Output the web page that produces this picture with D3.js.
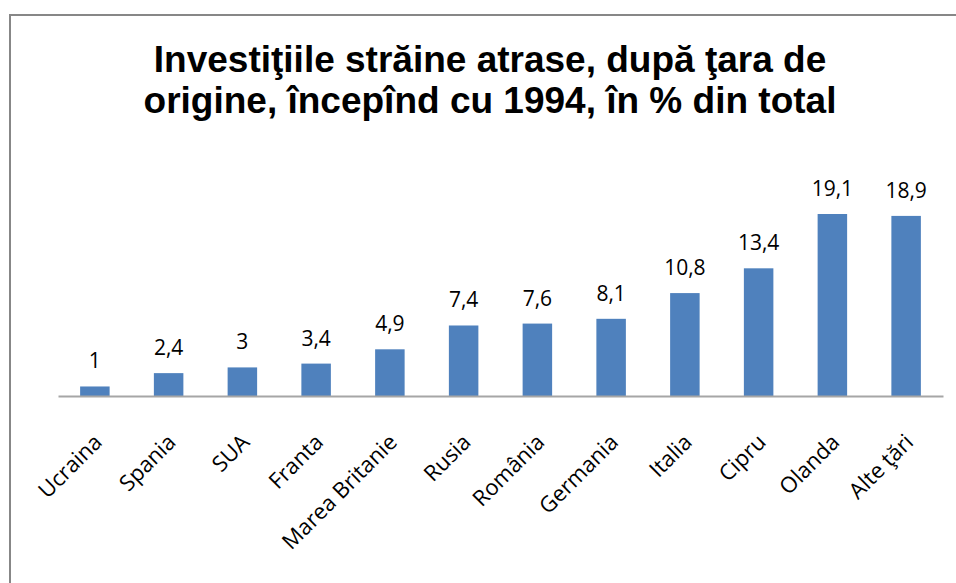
<!DOCTYPE html>
<html>
<head>
<meta charset="utf-8">
<script src="https://cdn.jsdelivr.net/npm/d3@7"></script>
<style>
  body { margin: 0; background: #fff; }
  svg { display: block; }
</style>
</head>
<body>
<div id="chart"></div>
<script>
// data
const categories = ['Ucraina', 'Spania', 'SUA', 'Franta', 'Marea Britanie', 'Rusia',
  'România', 'Germania', 'Italia', 'Cipru', 'Olanda', 'Alte ţări'];
const values = [1, 2.4, 3, 3.4, 4.9, 7.4, 7.6, 8.1, 10.8, 13.4, 19.1, 18.9];
const valueLabels = ['1', '2,4', '3', '3,4', '4,9', '7,4', '7,6', '8,1', '10,8', '13,4', '19,1', '18,9'];
const titleLines = ['Investiţiile străine atrase, după ţara de', 'origine, începînd cu 1994, în % din total'];

const width = 956;
const height = 583;
const margin = { top: 214, bottom: 187, left: 58, right: 13 };

const svg = d3.select('#chart')
  .append('svg')
  .attr('width', width)
  .attr('height', height);

// frame
svg.append('path')
  .attr('d', `M10,${height} V15 H${width}`)
  .attr('fill', 'none')
  .attr('stroke', '#878787')
  .attr('stroke-width', 2);

// title
svg.append('g')
  .selectAll('text')
  .data(titleLines)
  .join('text')
    .attr('x', 490)
    .attr('y', (d, i) => 72 + i * 41)
    .attr('text-anchor', 'middle')
    .attr('font-family', 'Liberation Sans, Arial, sans-serif')
    .attr('font-weight', 'bold')
    .attr('font-size', '37px')
    .attr('fill', '#000')
    .text(d => d);

const x = d3.scaleBand()
  .domain(categories)
  .range([margin.left, width - margin.right])
  .paddingInner(0.6)
  .paddingOuter(0.3);

const y = d3.scaleLinear()
  .domain([0, 19.1])
  .range([height - margin.bottom, margin.top]);

// bars
svg.append('g')
  .attr('fill', '#4f81bd')
  .selectAll('rect')
  .data(values)
  .join('rect')
    .attr('x', (d, i) => x(categories[i]))
    .attr('y', d => y(d))
    .attr('width', x.bandwidth())
    .attr('height', d => y(0) - y(d));

// value labels
svg.append('g')
  .selectAll('text')
  .data(values)
  .join('text')
    .attr('x', (d, i) => x(categories[i]) + x.bandwidth() / 2)
    .attr('y', d => y(d) - 18)
    .attr('text-anchor', 'middle')
    .attr('font-family', 'Open Sans, sans-serif')
    .attr('font-size', '21px')
    .attr('fill', '#000')
    .text((d, i) => valueLabels[i]);

// x axis
const xAxis = (g) => {
  g.attr('transform', `translate(0,${height - margin.bottom})`)
    .call(d3.axisBottom(x).tickSize(0).tickSizeOuter(0))
    .call(g => g.select('.domain').attr('stroke', '#a6a6a6').attr('stroke-width', 2))
    .selectAll('text')
      .attr('font-family', 'Open Sans, sans-serif')
      .attr('font-size', '22px')
      .attr('fill', '#000')
      .attr('text-anchor', 'end')
      .attr('dy', '0.35em')
      .attr('transform', 'translate(1,40) rotate(-45)');
}
svg.append('g').call(xAxis);
</script>
</body>
</html>
